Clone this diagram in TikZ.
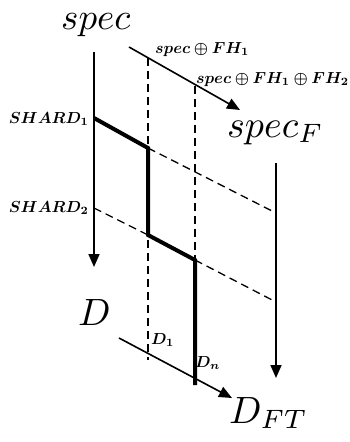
\documentclass[tikz,border=0pt]{standalone}
\usepackage{amsmath,bm,graphicx}
\usetikzlibrary{arrows.meta}
\newcommand{\bigtxt}[2]{\scalebox{#1}{$#2$}}
\newcommand{\smtxt}[1]{\scalebox{1.6}{$\bm{#1}$}}
\tikzset{
  thinline/.style={line width=1.6pt},
  thickline/.style={line width=4pt},
  dashline/.style={line width=1.3pt, dash pattern=on 8pt off 5pt},
  arr/.style={thinline, -{Triangle[length=13pt,width=11pt]}},
  lab/.style={inner sep=0pt, anchor=base west},
}
\begin{document}
\begin{tikzpicture}[x=1pt,y=-1pt]
\useasboundingbox (0,0) rectangle (350,442);
% labels
\node[lab] (spec) at (61,29) {\bigtxt{3.7}{spec}};
\node[lab] (specF) at (227,137) {\bigtxt{3.8}{spec_F}};
\node[lab] (D) at (78,325) {\bigtxt{3.8}{D}};
\node[lab] (DFT) at (229,423) {\bigtxt{3.8}{D_{FT}}};
\node[lab] (l1) at (155,53) {\smtxt{spec\oplus FH_1}};
\node[lab, anchor=base east] (l2) at (349,83) {\smtxt{spec\oplus FH_1\oplus FH_2}};
\node[lab, anchor=base east] (s1) at (89,123) {\smtxt{SHARD_1}};
\node[lab, anchor=base east] (s2) at (89,212) {\smtxt{SHARD_2}};
\node[lab] (d1) at (151,344) {\smtxt{D_1}};
\node[lab] (dn) at (195,367) {\smtxt{D_n}};
% coordinates
\coordinate (La) at (94,52);
\coordinate (Lb) at (94,267);
\coordinate (Ta) at (129,47);
\coordinate (Tb) at (240,110);
\coordinate (Ra) at (276,163);
\coordinate (Rb) at (276,378);
\coordinate (Ba) at (119,338);
\coordinate (Bb) at (232,398);
\coordinate (V1a) at (148,58);
\coordinate (V1b) at (148,360);
\coordinate (V2a) at (195,86);
\coordinate (V2b) at (195,385);
\coordinate (S1a) at (94,118);
\coordinate (P1) at (148,148);
\coordinate (S1c) at (276,213);
\coordinate (S2a) at (94,208);
\coordinate (P2) at (148,235);
\coordinate (P3) at (195,260);
\coordinate (S2c) at (276,302);
% dashed lines
\draw[dashline] (V1a) -- (V1b);
\draw[dashline] (V2a) -- (P3);
\draw[dashline] (P1) -- (S1c);
\draw[dashline] (S2a) -- (P2);
\draw[dashline] (P3) -- (S2c);
% arrows
\draw[arr] (La) -- (Lb);
\draw[arr] (Ta) -- (Tb);
\draw[arr] (Ra) -- (Rb);
\draw[arr] (Ba) -- (Bb);
% thick path
\draw[thickline, line join=miter] (S1a) -- (P1) -- (P2) -- (P3) -- (V2b);
\end{tikzpicture}
\end{document}
